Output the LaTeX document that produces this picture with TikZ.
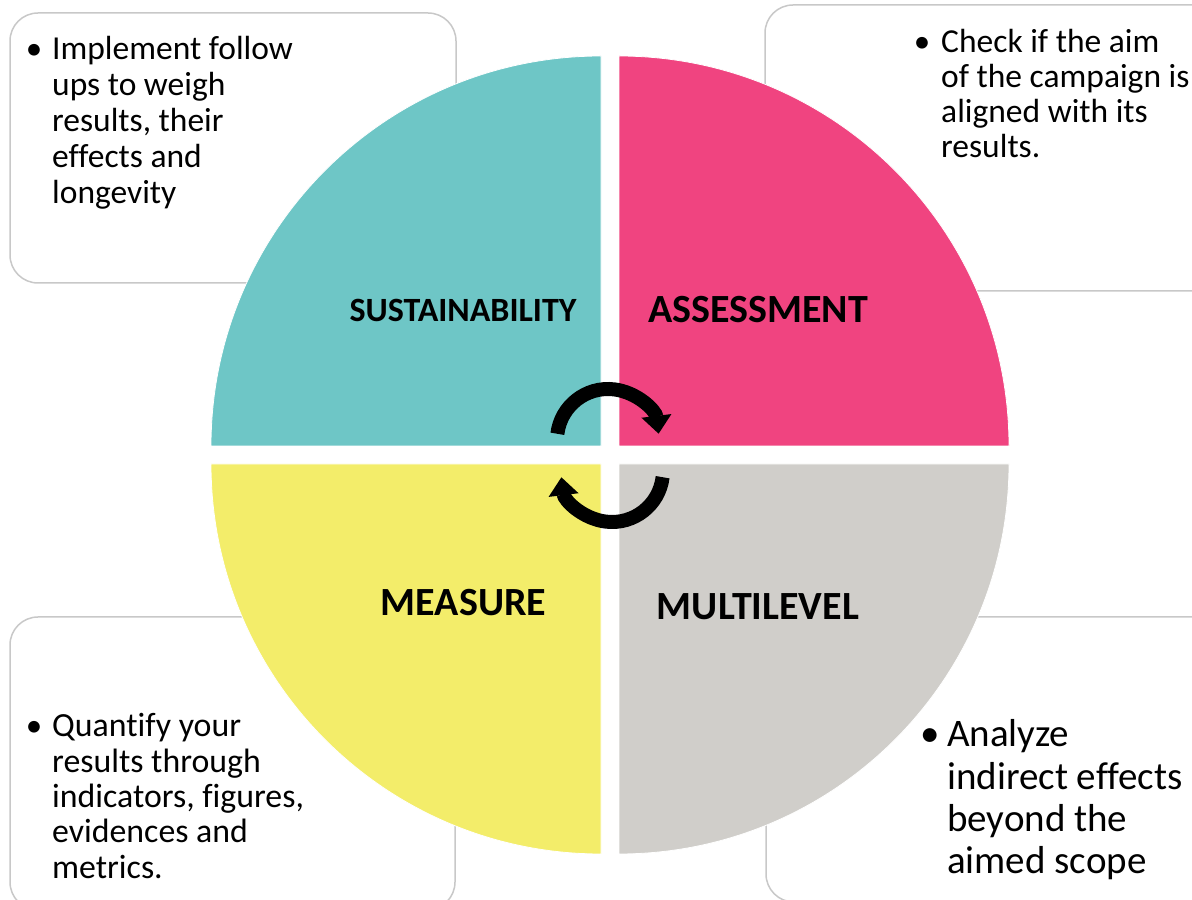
\documentclass[tikz,border=0pt]{standalone}
\usepackage{fontspec}
\setmainfont{Carlito}[Ligatures=NoCommon]
\usetikzlibrary{arrows.meta,positioning}

\definecolor{sustaincol}{HTML}{6EC6C6}
\definecolor{assesscol}{HTML}{F04480}
\definecolor{measurecol}{HTML}{F3ED6A}
\definecolor{multicol}{HTML}{D0CECA}
\definecolor{notegray}{HTML}{C8C8C8}

\begin{document}
\begin{tikzpicture}[%
    x=1pt, y=1pt,
    notebox/.style={draw=notegray, line width=1.5pt, rounded corners=28pt, fill=white},
    quarter/.style={draw=white, line width=0.8pt},
    title/.style={font=\bfseries\fontsize{40}{44}\selectfont, inner sep=0pt},
    notetext/.style={font=\fontsize{33.5}{36}\selectfont, align=left, inner sep=0pt, anchor=base west},
    dot/.style={font=\fontsize{33}{36}\selectfont, inner sep=0pt, anchor=base},
    cycarrow/.style={line width=14pt, -{Triangle[width=29pt,length=18pt]}}
  ]
    \useasboundingbox (0,0) rectangle (1192,900);
    \clip (0,0) rectangle (1192,900);

    % note boxes behind the wheel
    \draw[notebox] (10,617) rectangle (456,887);
    \draw[notebox] (765,609) rectangle (1240,895);
    \draw[notebox] (10,-10) rectangle (455,283);
    \draw[notebox] (766,-2) rectangle (1240,283);

    % the four quarters
    \fill[quarter, fill=sustaincol] (601,454) -- (211,454) arc[start angle=180, end angle=90, radius=390] -- cycle;
    \fill[quarter, fill=assesscol] (619,454) -- (619,844) arc[start angle=90, end angle=0, radius=390] -- cycle;
    \fill[quarter, fill=measurecol] (601,436) -- (211,436) arc[start angle=180, end angle=270, radius=390] -- cycle;
    \fill[quarter, fill=multicol] (619,436) -- (1009,436) arc[start angle=0, end angle=-90, radius=390] -- cycle;

    \node[title, font=\bfseries\fontsize{34}{38}\selectfont] (sustain) at (463,590) {SUSTAINABILITY};
    \node[title] (assess) at (758,590) {ASSESSMENT};
    \node[title] (measure) at (463.5,297) {MEASURE};
    \node[title] (multi) at (758,293) {MULTILEVEL};

    % bullet notes (base of a note is its last line)
    \node[notetext] (sustainnote) at (52,696) {Implement follow\\ups to weigh\\results, their\\effects and\\longevity};
    \node[dot] at (34,840) {•};
    \node[notetext, font=\fontsize{33.5}{35}\selectfont] (assessnote) at (941,742) {Check if the aim\\of the campaign is\\aligned with its\\results.};
    \node[dot] at (922,847) {•};
    \node[notetext, font=\fontsize{33.8}{35.3}\selectfont] (measurenote) at (52,21.8) {Quantify your\\results through\\indicators, figures,\\evidences and\\metrics.};
    \node[dot] at (34,163) {•};
    \node[notetext, font=\fontsize{39}{42.3}\selectfont] (multinote) at (947,26.1) {Analyze\\indirect effects\\beyond the\\aimed scope};
    \node[dot, font=\fontsize{39}{42}\selectfont] at (930,153) {•};

    % turning arrows in the middle
    \coordinate (cyctop) at (608,460);
    \coordinate (cycbot) at (612,429);
    \draw[cycarrow] (cyctop) ++(173:51) arc[start angle=173, end angle=7, radius=51];
    \draw[cycarrow] (cycbot) ++(-7:51) arc[start angle=-7, end angle=-173, radius=51];
  \end{tikzpicture}
\end{document}
